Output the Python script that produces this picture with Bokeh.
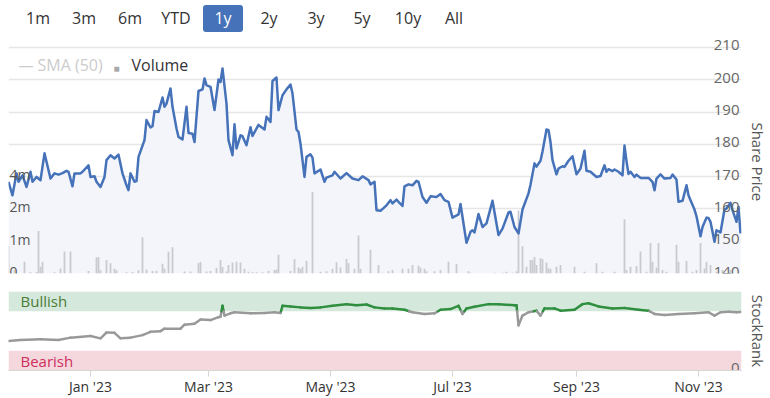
import numpy as np
import pandas as pd
from bokeh.plotting import figure
from bokeh.layouts import column
from bokeh.models import (Range1d, FixedTicker, DatetimeTickFormatter,
                          BoxAnnotation, Label, Div)
from bokeh.core.properties import value
from bokeh.embed import file_html
from bokeh.resources import INLINE

# ---------------- data ----------------
price_dates = [
    "2022-11-21", "2022-11-23", "2022-11-25", "2022-11-26", "2022-11-28", "2022-11-30",
    "2022-12-02", "2022-12-03", "2022-12-05", "2022-12-07", "2022-12-09", "2022-12-12",
    "2022-12-14", "2022-12-16", "2022-12-18", "2022-12-20", "2022-12-21", "2022-12-23",
    "2022-12-24", "2022-12-27", "2022-12-28", "2022-12-31",
    "2023-01-01", "2023-01-03", "2023-01-04", "2023-01-06", "2023-01-08", "2023-01-09",
    "2023-01-11", "2023-01-13", "2023-01-15", "2023-01-17", "2023-01-19", "2023-01-20",
    "2023-01-21", "2023-01-23", "2023-01-24", "2023-01-25", "2023-01-28", "2023-01-29",
    "2023-01-31",
    "2023-02-01", "2023-02-02", "2023-02-04", "2023-02-06", "2023-02-07", "2023-02-08",
    "2023-02-10", "2023-02-11", "2023-02-13", "2023-02-14", "2023-02-16", "2023-02-18",
    "2023-02-19", "2023-02-21", "2023-02-22", "2023-02-24", "2023-02-26", "2023-02-27",
    "2023-02-28",
    "2023-03-02", "2023-03-04", "2023-03-06", "2023-03-07", "2023-03-08", "2023-03-10",
    "2023-03-11", "2023-03-13", "2023-03-14", "2023-03-15", "2023-03-17", "2023-03-18",
    "2023-03-20", "2023-03-22", "2023-03-23", "2023-03-26", "2023-03-29", "2023-03-30",
    "2023-04-01", "2023-04-02", "2023-04-04", "2023-04-05", "2023-04-07", "2023-04-09",
    "2023-04-11", "2023-04-12", "2023-04-14", "2023-04-15", "2023-04-16", "2023-04-18",
    "2023-04-19", "2023-04-21", "2023-04-22", "2023-04-23", "2023-04-26", "2023-04-28",
    "2023-04-29",
    "2023-05-02", "2023-05-03", "2023-05-06", "2023-05-09", "2023-05-12", "2023-05-15",
    "2023-05-17", "2023-05-20", "2023-05-21", "2023-05-23", "2023-05-24", "2023-05-26",
    "2023-05-29", "2023-05-31",
    "2023-06-01", "2023-06-03", "2023-06-04", "2023-06-06", "2023-06-07", "2023-06-09",
    "2023-06-11", "2023-06-13", "2023-06-14", "2023-06-16", "2023-06-18", "2023-06-20",
    "2023-06-23", "2023-06-25", "2023-06-27", "2023-06-29",
    "2023-07-01", "2023-07-04", "2023-07-05", "2023-07-08", "2023-07-10", "2023-07-11",
    "2023-07-12", "2023-07-14", "2023-07-16", "2023-07-18", "2023-07-21", "2023-07-24",
    "2023-07-26", "2023-07-29", "2023-07-30",
    "2023-08-01", "2023-08-03", "2023-08-05", "2023-08-08", "2023-08-09", "2023-08-11",
    "2023-08-12", "2023-08-14", "2023-08-15", "2023-08-17", "2023-08-18", "2023-08-19",
    "2023-08-20", "2023-08-22", "2023-08-23", "2023-08-25", "2023-08-26", "2023-08-28",
    "2023-08-30",
    "2023-09-01", "2023-09-03", "2023-09-05", "2023-09-06", "2023-09-08", "2023-09-11",
    "2023-09-13", "2023-09-15", "2023-09-16", "2023-09-17", "2023-09-19", "2023-09-20",
    "2023-09-22", "2023-09-24", "2023-09-25", "2023-09-26", "2023-09-27", "2023-09-28",
    "2023-09-30",
    "2023-10-01", "2023-10-03", "2023-10-07", "2023-10-09", "2023-10-10", "2023-10-11",
    "2023-10-13", "2023-10-15", "2023-10-18", "2023-10-19", "2023-10-21", "2023-10-22",
    "2023-10-24", "2023-10-26", "2023-10-27", "2023-10-28", "2023-10-30", "2023-10-31",
    "2023-11-02", "2023-11-03", "2023-11-05", "2023-11-06", "2023-11-07", "2023-11-09",
    "2023-11-10", "2023-11-12", "2023-11-14", "2023-11-15", "2023-11-17", "2023-11-18",
    "2023-11-20", "2023-11-21", "2023-11-22",
]
price_values = [
    168.4, 164.2, 171.0, 168.4, 170.4, 166.8, 171.5, 168.4, 169.9, 168.9, 177.2, 169.4,
    171.0, 170.6, 171.1, 171.8, 171.5, 167.0, 171.0, 171.0, 171.5, 173.5,
    169.9, 170.1, 168.4, 166.8, 169.9, 175.1, 176.6, 175.6, 176.8, 171.0, 167.3, 165.8,
    171.0, 168.4, 168.6, 176.1, 181.3, 187.5, 185.2,
    185.6, 190.3, 190.0, 194.5, 191.6, 192.6, 197.3, 191.6, 184.9, 182.3, 181.5, 191.6,
    183.5, 183.3, 180.7, 196.5, 197.0, 200.4, 198.3,
    197.8, 190.6, 200.1, 199.3, 203.5, 192.6, 181.3, 176.6, 186.2, 178.7, 182.8, 182.5,
    179.7, 185.3, 182.6, 186.0, 184.6, 188.5,
    186.9, 199.6, 200.7, 190.6, 195.2, 197.0, 198.5, 195.7, 184.6, 183.8, 180.2, 169.9,
    176.1, 176.9, 175.9, 171.0, 172.2, 168.4, 169.7,
    170.4, 171.5, 169.4, 171.1, 169.4, 168.9, 170.1, 168.9, 167.6, 168.4, 159.6, 159.4,
    161.1, 162.7,
    161.7, 162.9, 162.2, 160.9, 167.0, 167.6, 167.3, 168.7, 168.4, 163.7, 161.9, 163.9,
    163.7, 164.6, 162.7, 162.2,
    157.3, 158.3, 161.5, 149.5, 152.9, 153.4, 152.7, 158.4, 154.4, 155.5, 162.5, 151.9,
    153.9, 158.9, 159.1,
    154.4, 152.4, 159.8, 164.8, 167.5, 174.1, 173.1, 174.9, 177.8, 184.6, 184.4, 180.7,
    175.1, 170.7, 172.5, 173.2, 173.0, 174.9, 176.3,
    170.7, 172.5, 178.0, 171.8, 171.5, 169.9, 170.2, 173.5, 171.5, 172.3, 171.7, 172.2,
    171.5, 170.4, 179.6, 174.8, 170.8, 171.5, 169.9,
    170.6, 169.6, 169.6, 168.4, 165.8, 169.4, 170.7, 169.4, 169.6, 170.6, 169.1, 162.2,
    162.5, 167.3, 164.2, 162.7, 159.8, 157.7,
    151.5, 154.4, 157.3, 157.2, 156.0, 149.8, 153.4, 152.7, 159.9, 160.1, 161.9, 159.6,
    156.0, 160.6, 152.4,
]

volume_dates = [
    "2022-11-21", "2022-11-24", "2022-11-29", "2022-12-02", "2022-12-05", "2022-12-06",
    "2022-12-07", "2022-12-08", "2022-12-14", "2022-12-17", "2022-12-19", "2022-12-22",
    "2022-12-31",
    "2023-01-04", "2023-01-05", "2023-01-06", "2023-01-09", "2023-01-11", "2023-01-13",
    "2023-01-14", "2023-01-19", "2023-01-22", "2023-01-25", "2023-01-27", "2023-01-29",
    "2023-02-01", "2023-02-03", "2023-02-06", "2023-02-07", "2023-02-09", "2023-02-11",
    "2023-02-17", "2023-02-20", "2023-02-24", "2023-02-25", "2023-02-28",
    "2023-03-02", "2023-03-05", "2023-03-07", "2023-03-08", "2023-03-10", "2023-03-11",
    "2023-03-13", "2023-03-15", "2023-03-17", "2023-03-19", "2023-03-21", "2023-03-23",
    "2023-03-25", "2023-03-28", "2023-03-31",
    "2023-04-03", "2023-04-04", "2023-04-05", "2023-04-11", "2023-04-13", "2023-04-15",
    "2023-04-16", "2023-04-17", "2023-04-19", "2023-04-22", "2023-04-26", "2023-04-29",
    "2023-05-02", "2023-05-04", "2023-05-06", "2023-05-09", "2023-05-10", "2023-05-13",
    "2023-05-15", "2023-05-16", "2023-05-21", "2023-05-25", "2023-05-27", "2023-05-30",
    "2023-06-01", "2023-06-06", "2023-06-09", "2023-06-11", "2023-06-14", "2023-06-15",
    "2023-06-17", "2023-06-18", "2023-06-22", "2023-06-25", "2023-06-29",
    "2023-07-03", "2023-07-09", "2023-07-10", "2023-07-22", "2023-07-26", "2023-07-28",
    "2023-07-31",
    "2023-08-02", "2023-08-03", "2023-08-05", "2023-08-07", "2023-08-09", "2023-08-10",
    "2023-08-11", "2023-08-12", "2023-08-14", "2023-08-15", "2023-08-17", "2023-08-18",
    "2023-08-19", "2023-08-22", "2023-08-24", "2023-08-31",
    "2023-09-05", "2023-09-11", "2023-09-14", "2023-09-20", "2023-09-25", "2023-09-26",
    "2023-09-28",
    "2023-10-01", "2023-10-03", "2023-10-06", "2023-10-08", "2023-10-09", "2023-10-11",
    "2023-10-12", "2023-10-14", "2023-10-16", "2023-10-21", "2023-10-22", "2023-10-26",
    "2023-10-29", "2023-10-31",
    "2023-11-02", "2023-11-04", "2023-11-05", "2023-11-07", "2023-11-10", "2023-11-13",
    "2023-11-17",
]
volume_millions = [
    1.12, 0.14, 0.49, 0.05, 0.06, 1.75, 0.28, 0.49, 0.05, 0.21, 0.91, 0.91, 0.10,
    0.67, 0.67, 0.13, 0.56, 0.42, 0.20, 0.13, 0.05, 0.06, 0.13, 1.50, 0.16,
    0.10, 0.10, 0.40, 0.20, 0.90, 1.08, 0.08, 0.08, 0.42, 0.47, 0.08,
    0.10, 0.24, 0.56, 0.27, 0.08, 0.35, 0.45, 0.49, 0.45, 0.20, 0.07, 0.05, 0.05, 0.05, 0.10,
    0.14, 0.17, 0.77, 0.10, 0.60, 0.25, 0.20, 0.28, 0.53, 3.36, 0.07, 0.09,
    0.20, 0.46, 0.25, 0.60, 0.42, 0.20, 1.57, 0.20, 0.98, 0.35, 0.03, 0.09,
    0.14, 0.20, 0.20, 0.35, 0.32, 0.25, 0.20, 0.09, 0.09, 0.14, 0.49,
    0.39, 0.09, 0.03, 0.03, 0.03, 0.07, 0.03,
    0.09, 2.60, 1.13, 0.28, 0.56, 0.56, 0.68, 0.35, 0.63, 0.60, 0.45, 0.21, 0.20, 0.28,
    0.35, 0.28,
    0.07, 0.42, 0.07, 0.07, 2.24, 0.14, 0.28,
    0.31, 0.91, 0.07, 1.26, 0.49, 0.25, 1.26, 0.14, 0.07, 1.19, 0.49, 0.52, 0.07, 0.14,
    1.26, 0.21, 0.49, 0.35, 0.07, 0.14, 0.14,
]

rank_dates = [
    "2022-11-21", "2022-11-27", "2022-12-07", "2022-12-16", "2022-12-22", "2023-01-01",
    "2023-01-06", "2023-01-09", "2023-01-13", "2023-01-16", "2023-01-21", "2023-01-27",
    "2023-01-31", "2023-02-05", "2023-02-07", "2023-02-15", "2023-02-17", "2023-02-22",
    "2023-02-25", "2023-03-02", "2023-03-06", "2023-03-07", "2023-03-08", "2023-03-09",
    "2023-03-12", "2023-03-14", "2023-03-22", "2023-03-29", "2023-04-03", "2023-04-06",
    "2023-04-07", "2023-04-11", "2023-04-16", "2023-04-21", "2023-04-26", "2023-05-02",
    "2023-05-09", "2023-05-14", "2023-05-19", "2023-05-23", "2023-05-28", "2023-06-01",
    "2023-06-07", "2023-06-11", "2023-06-17", "2023-06-22", "2023-06-25", "2023-06-30",
    "2023-07-04", "2023-07-06", "2023-07-08", "2023-07-12", "2023-07-19", "2023-07-24",
    "2023-08-01", "2023-08-02", "2023-08-03", "2023-08-05", "2023-08-08", "2023-08-12",
    "2023-08-14", "2023-08-16", "2023-08-21", "2023-08-24", "2023-08-31", "2023-09-04",
    "2023-09-07", "2023-09-12", "2023-09-19", "2023-09-25", "2023-10-02", "2023-10-07",
    "2023-10-10", "2023-10-15", "2023-10-22", "2023-10-30", "2023-11-06", "2023-11-09",
    "2023-11-12", "2023-11-16", "2023-11-20", "2023-11-22",
]
rank_values = [
    37.4, 38.7, 39.5, 38.7, 41.6, 43.6, 40.7, 48.1, 47.7, 40.7, 41.6, 44.8,
    49.0, 49.8, 53.0, 53.0, 58.0, 59.3, 64.6, 63.8, 67.5, 68.0, 81.9, 69.5,
    72.4, 73.7, 72.4, 72.8, 73.7, 72.8, 81.9, 81.1, 79.9, 79.0, 79.9, 81.9,
    84.0, 82.7, 83.6, 79.9, 78.6, 78.6, 76.9, 73.7, 71.6, 72.4, 76.9, 77.8,
    81.9, 71.6, 78.6, 80.6, 84.0, 84.0, 82.7, 82.7, 57.2, 69.5, 73.7, 75.7,
    69.5, 78.6, 78.6, 75.7, 76.9, 84.0, 85.2, 81.1, 78.6, 79.0, 76.9, 75.7,
    71.6, 70.4, 71.6, 72.4, 73.7, 69.5, 73.7, 74.4, 73.7, 73.9,
]

price_ticks = [140, 150, 160, 170, 180, 190, 200, 210]
volume_tick_values = [0, 4 / 3, 8 / 3, 4]          # millions
volume_tick_labels = ["0", "1m", "2m", "4m"]
month_ticks = ["2023-01-01", "2023-03-01", "2023-05-01", "2023-07-01",
               "2023-09-01", "2023-11-01"]
range_buttons = ["1m", "3m", "6m", "YTD", "1y", "2y", "3y", "5y", "10y", "All"]
selected_button = "1y"
legend_items = ["SMA (50)", "Volume"]
bullish_band = (75, 100)
bearish_band = (0, 25)
rank_zero_label = "0"

# ---------------- layout / style constants ----------------
FONT = "Open Sans"
BLUE = "#4572b8"
GRID = "#e6e6e6"
button_centers = [38, 84, 130, 176, 223, 269, 316, 362, 408, 454]   # page px
LEGEND_Y = 209

pdates = pd.to_datetime(price_dates)
vdates = pd.to_datetime(volume_dates)
rdates = pd.to_datetime(rank_dates)
x_start = pdates[0]
x_end = pdates[-1] + pd.Timedelta(hours=12)
shared_x = Range1d(start=x_start, end=x_end)

y_top = price_ticks[-1] + 4
vol_top = volume_tick_values[-1] * (y_top - price_ticks[0]) / (price_ticks[3] - price_ticks[0])

# ---------------- range selector (HTML) ----------------
parts = ['<div style="position:relative;width:770px;height:34px;'
         'font-family:\'Open Sans\',sans-serif;font-size:16px;">']
for name, cx in zip(range_buttons, button_centers):
    sel = name == selected_button
    parts.append(
        '<span style="position:absolute;left:%dpx;top:5px;width:40px;height:27px;'
        'line-height:27px;text-align:center;border-radius:3px;color:%s;background:%s;">%s</span>'
        % (cx - 20, "#ffffff" if sel else "#333333", BLUE if sel else "transparent", name))
parts.append("</div>")
buttons = Div(text="".join(parts), width=770, height=34, margin=(0, 0, 0, 0))

# ---------------- price / volume panel ----------------
p1 = figure(width=770, height=252, x_axis_type="datetime", x_range=shared_x,
            y_range=Range1d(price_ticks[0], y_top),
            x_axis_location=None, y_axis_location="right",
            output_backend="svg", toolbar_location=None,
            min_border_left=8, min_border_right=26, min_border_top=0, min_border_bottom=13)
p1.extra_y_ranges = {"vol": Range1d(0, vol_top)}

p1.varea(x=pdates, y1=price_ticks[0], y2=price_values, fill_color="#f3f5fb")
p1.vbar(x=vdates, top=volume_millions, width=0.9 * 86400000, y_range_name="vol",
        fill_color="#c9cad0", line_color=None)
p1.line(pdates, price_values, line_color=BLUE, line_width=2.5, line_join="round")

p1.text(x=[x_end] * len(price_ticks), y=price_ticks, text=[str(t) for t in price_ticks],
        text_align="right", text_baseline="alphabetic", x_offset=-2, y_offset=-2,
        text_font=value(FONT), text_font_size="15px", text_color="#666666")
p1.text(x=[x_start] * len(volume_tick_values), y=volume_tick_values, text=volume_tick_labels,
        y_range_name="vol", text_align="left", text_baseline="alphabetic",
        x_offset=1, y_offset=-2, text_font=value(FONT), text_font_size="14px",
        text_color="#555555")

# legend
p1.add_layout(Label(x=10, y=LEGEND_Y, x_units="screen", y_units="screen", text="—",
                    text_baseline="middle", text_font=FONT, text_font_size="15px",
                    text_color="#cccccc"))
p1.add_layout(Label(x=29, y=LEGEND_Y, x_units="screen", y_units="screen", text=legend_items[0],
                    text_baseline="middle", text_font=FONT, text_font_size="16px",
                    text_color="#cccccc"))
p1.add_layout(Label(x=105, y=LEGEND_Y - 3, x_units="screen", y_units="screen", text="■",
                    text_baseline="middle", text_font=FONT, text_font_size="10px",
                    text_color="#a8a8a8"))
p1.add_layout(Label(x=123, y=LEGEND_Y, x_units="screen", y_units="screen", text=legend_items[1],
                    text_baseline="middle", text_font=FONT, text_font_size="16px",
                    text_color="#333333"))

p1.xgrid.visible = False
p1.ygrid.ticker = FixedTicker(ticks=price_ticks)
p1.ygrid.grid_line_color = GRID
p1.ygrid.grid_line_width = 1.5

# ---------------- StockRank panel ----------------
p2 = figure(width=770, height=112, x_axis_type="datetime", x_range=shared_x,
            y_range=Range1d(0, 100), y_axis_location="right",
            output_backend="svg", toolbar_location=None,
            min_border_left=8, min_border_right=26, min_border_top=5, min_border_bottom=0)

p2.add_layout(BoxAnnotation(bottom=bullish_band[0], top=bullish_band[1],
                            fill_color="#d5e8dc", fill_alpha=1, line_color=None, level="underlay"))
p2.add_layout(BoxAnnotation(bottom=bearish_band[0], top=bearish_band[1],
                            fill_color="#f5d8de", fill_alpha=1, line_color=None, level="underlay"))

# split the StockRank line at the bullish threshold
T = bullish_band[0]
rx = (rdates.astype("int64") // 10**6).to_numpy().astype(float)
ry = np.asarray(rank_values, dtype=float)
GREEN, GRAY = "#2f8f3f", "#999999"
x0s, y0s, x1s, y1s, cols = [], [], [], [], []
for i in range(len(rx) - 1):
    xa, ya, xb, yb = rx[i], ry[i], rx[i + 1], ry[i + 1]
    a_in, b_in = ya >= T, yb >= T
    if a_in == b_in:
        x0s.append(xa); y0s.append(ya); x1s.append(xb); y1s.append(yb)
        cols.append(GREEN if a_in else GRAY)
    else:
        t = (T - ya) / (yb - ya)
        xm = xa + t * (xb - xa)
        x0s += [xa, xm]; y0s += [ya, T]; x1s += [xm, xb]; y1s += [T, yb]
        cols += [GREEN if a_in else GRAY, GREEN if b_in else GRAY]
p2.segment(x0=x0s, y0=y0s, x1=x1s, y1=y1s, line_color=cols, line_width=2.5, line_cap="round")

p2.text(x=[x_start, x_start],
        y=[sum(bullish_band) / 2, sum(bearish_band) / 2],
        text=["Bullish", "Bearish"], x_offset=12, text_baseline="middle",
        text_font=value(FONT), text_font_size="15px",
        text_color=["#4a7c34", "#cc2f5a"])
p2.text(x=[x_end], y=[bearish_band[0]], text=[rank_zero_label], text_align="right",
        text_baseline="alphabetic", x_offset=-2, y_offset=-3,
        text_font=value(FONT), text_font_size="15px", text_color="#666666")

p2.xgrid.visible = False
p2.ygrid.visible = False
xa_ = p2.xaxis[0]
xa_.ticker = FixedTicker(ticks=[pd.Timestamp(m).value // 10**6 for m in month_ticks])
xa_.formatter = DatetimeTickFormatter(months="%b '%y", days="%b '%y", years="%b '%y",
                                      hours="%b '%y", minutes="%b '%y")
xa_.axis_line_color = "#d6d6d6"
xa_.major_tick_line_color = "#d6d6d6"
xa_.minor_tick_line_color = None
xa_.major_tick_out = 6
xa_.major_tick_in = 0
xa_.major_label_standoff = 0
xa_.major_label_text_font = FONT
xa_.major_label_text_font_size = "14px"
xa_.major_label_text_color = "#333333"

# right axes: titles only (tick labels are drawn inside the plot)
NB = "\u00a0"
for p, title in ((p1, NB * 4 + "Share Price"), (p2, "StockRank")):
    ax = p.yaxis[0]
    ax.ticker = FixedTicker(ticks=[])
    ax.axis_label = title
    ax.major_tick_line_color = None
    ax.minor_tick_line_color = None
    ax.axis_line_color = None
    ax.major_tick_out = 0
    ax.major_tick_in = 0
    ax.major_label_standoff = 0
    ax.axis_label_standoff = 6
    ax.axis_label_text_font = FONT
    ax.axis_label_text_font_size = "15px"
    ax.axis_label_text_font_style = "normal"
    ax.axis_label_text_color = "#555555"
    p.outline_line_color = None
    p.background_fill_color = "white"
    p.border_fill_color = "white"

layout = column(buttons, p1, p2, spacing=0)
open("out.html", "w").write(file_html(layout, INLINE))
